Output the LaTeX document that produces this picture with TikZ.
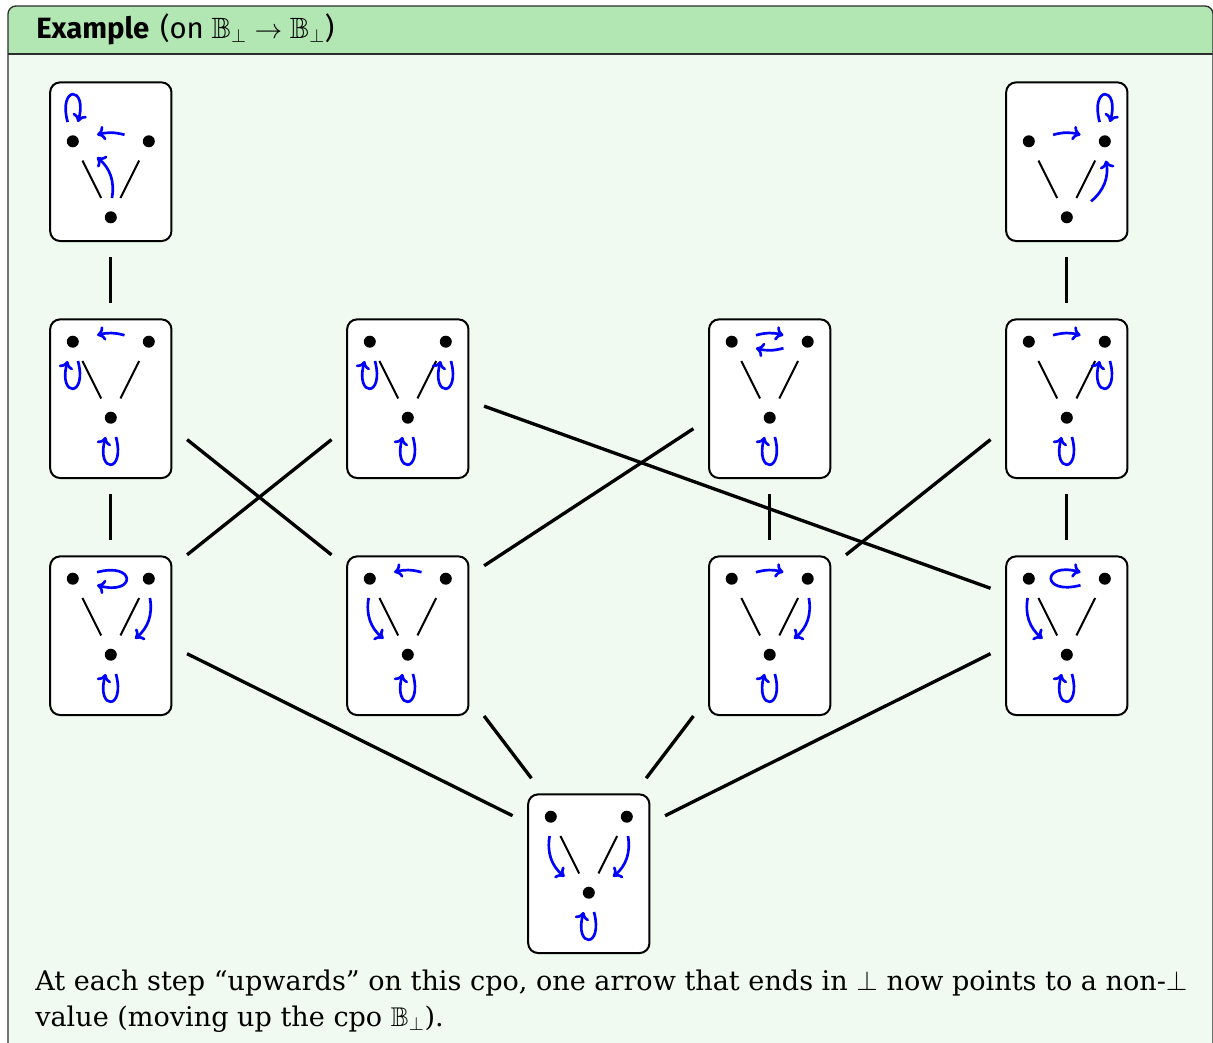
\documentclass[tikz,border=0pt]{standalone}
\usepackage{fontspec}
\usepackage{amssymb}
\setmainfont{DejaVu Serif}
\newfontfamily\titlefont{Fira Sans}
\usetikzlibrary{arrows.meta}

\definecolor{titlebg}{RGB}{178,230,178}
\definecolor{bodybg}{RGB}{240,250,240}
\definecolor{framecol}{RGB}{45,45,45}
\definecolor{fnblue}{RGB}{0,0,255}

% One element of the function space: a rounded box holding the Hasse
% diagram of B_bot (false, true on top, bot below).
% #1 name, #2 centre x, #3 centre y, #4 offset of the top row of dots
\newcommand\cpobox[4]{%
  \node[cpo] (#1) at (#2,#3) {};
  \coordinate (#1h) at (#2,#3-20);
  \node[dotnode] (#1L) at (#2-38,#3+#4) {};
  \node[dotnode] (#1R) at (#2+38,#3+#4) {};
  \node[dotnode] (#1B) at (#2,#3+#4+76) {};
  \draw[hasse] (#1L) -- (#1B) (#1R) -- (#1B);
}

\begin{document}
\begin{tikzpicture}[
  x=0.75pt, y=-0.75pt,
  cpo/.style={draw, line width=1.5pt, fill=white, rounded corners=7.5pt,
    minimum width=91pt, minimum height=119pt, inner sep=0pt},
  dotnode/.style={rectangle, inner sep=0pt, minimum width=36pt, minimum height=28.5pt,
    path picture={\fill (path picture bounding box.center) circle (4.5pt);}},
  hasse/.style={line width=1.5pt},
  conn/.style={line width=2.5pt},
  fn/.style={fnblue, line width=2pt, -{To[length=6pt,width=11pt]}},
  every loop/.style={min distance=28.5pt},
  lpup/.style={out=105, in=75, loop},
  lpdown/.style={out=285, in=255, loop},
  lpright/.style={out=15, in=-15, loop},
  lpleft/.style={out=195, in=165, loop},
]
\useasboundingbox (0,0) rectangle (1213,1042);

% frame with title bar
\begin{scope}
  \clip[rounded corners=6pt] (8,6) rectangle (1213,1080);
  \fill[bodybg] (8,6) rectangle (1213,1080);
  \fill[titlebg] (8,6) rectangle (1213,54);
\end{scope}
\draw[framecol, line width=1pt] (8,54) -- (1213,54);
\draw[framecol, line width=1pt, rounded corners=6pt] (8,1080) -- (8,6) -- (1213,6) -- (1213,1080);

\node[anchor=base west, inner sep=0pt, font=\titlefont\fontsize{22}{26}\selectfont] (title) at (36,38)
  {\textbf{Example}\hspace{8pt}(on $\mathbb{B}_\bot \to \mathbb{B}_\bot$)};

% the eleven monotone functions
\cpobox{A1}{110.8}{161.7}{-20.4}
\cpobox{D1}{1066.8}{161.7}{-20.4}
\cpobox{A2}{110.8}{398.7}{-57}
\cpobox{B2}{407.8}{398.7}{-57}
\cpobox{C2}{769.7}{398.7}{-57}
\cpobox{D2}{1066.8}{398.7}{-57}
\cpobox{A3}{110.8}{635.7}{-57}
\cpobox{B3}{407.8}{635.7}{-57}
\cpobox{C3}{769.7}{635.7}{-57}
\cpobox{D3}{1066.8}{635.7}{-57}
\cpobox{E4}{588.8}{873.7}{-57}

% arrows of each function
\draw[fn] (A1L) to[lpup] (A1L);
\draw[fn] (A1R) to[bend right=15] (A1L);
\draw[fn] (A1B) to[bend right=30] (A1L);

\draw[fn] (D1R) to[lpup] (D1R);
\draw[fn] (D1L) to[bend left=15] (D1R);
\draw[fn] (D1B) to[bend right=30] (D1R);

\draw[fn] (A2R) to[bend right=15] (A2L);
\draw[fn] (A2L) to[lpdown] (A2L);
\draw[fn] (A2B) to[lpdown] (A2B);

\draw[fn] (B2L) to[lpdown] (B2L);
\draw[fn] (B2R) to[lpdown] (B2R);
\draw[fn] (B2B) to[lpdown] (B2B);

\draw[fn] (C2L) to[bend left=15] (C2R);
\draw[fn] (C2R) to[bend left=15] (C2L);
\draw[fn] (C2B) to[lpdown] (C2B);

\draw[fn] (D2L) to[bend left=15] (D2R);
\draw[fn] (D2R) to[lpdown] (D2R);
\draw[fn] (D2B) to[lpdown] (D2B);

\draw[fn] (A3L) to[lpright] (A3L);
\draw[fn] (A3R) to[bend left=30] (A3B);
\draw[fn] (A3B) to[lpdown] (A3B);

\draw[fn] (B3R) to[bend right=15] (B3L);
\draw[fn] (B3L) to[bend right=30] (B3B);
\draw[fn] (B3B) to[lpdown] (B3B);

\draw[fn] (C3L) to[bend left=15] (C3R);
\draw[fn] (C3R) to[bend left=30] (C3B);
\draw[fn] (C3B) to[lpdown] (C3B);

\draw[fn] (D3R) to[lpleft] (D3R);
\draw[fn] (D3L) to[bend right=30] (D3B);
\draw[fn] (D3B) to[lpdown] (D3B);

\draw[fn] (E4L) to[bend right=30] (E4B);
\draw[fn] (E4R) to[bend left=30] (E4B);
\draw[fn] (E4B) to[lpdown] (E4B);

% order relation between the functions
\draw[conn, shorten <=86.6pt, shorten >=56.6pt] (A1h) -- (A2h);
\draw[conn, shorten <=86.6pt, shorten >=56.6pt] (A2h) -- (A3h);
\draw[conn, shorten <=86.6pt, shorten >=56.6pt] (D1h) -- (D2h);
\draw[conn, shorten <=86.6pt, shorten >=56.6pt] (D2h) -- (D3h);
\draw[conn, shorten <=86.6pt, shorten >=56.6pt] (C2h) -- (C3h);
\draw[conn, shorten <=73.2pt, shorten >=73.2pt] (A2h) -- (B3h);
\draw[conn, shorten <=73.2pt, shorten >=73.2pt] (B2h) -- (A3h);
\draw[conn, shorten <=73.2pt, shorten >=73.2pt] (D2h) -- (C3h);
\draw[conn, shorten <=60.8pt, shorten >=60.8pt] (B2h) -- (D3h);
\draw[conn, shorten <=68.4pt, shorten >=68.4pt] (C2h) -- (B3h);
\draw[conn, shorten <=63.9pt, shorten >=63.9pt] (A3h) -- (E4h);
\draw[conn, shorten <=63.9pt, shorten >=63.9pt] (D3h) -- (E4h);
\draw[conn, shorten <=94.5pt, shorten >=71.1pt] (B3h) -- (E4h);
\draw[conn, shorten <=94.5pt, shorten >=71.1pt] (C3h) -- (E4h);

% caption text
\node[anchor=base west, inner sep=0pt, font=\fontsize{20.3}{24}\selectfont] (note1) at (35,990)
  {At each step “upwards” on this cpo, one arrow that ends in $\bot$ now points to a non-$\bot$};
\node[anchor=base west, inner sep=0pt, font=\fontsize{20.3}{24}\selectfont] (note2) at (35,1026)
  {value (moving up the cpo $\mathbb{B}_\bot$).};
\end{tikzpicture}
\end{document}
